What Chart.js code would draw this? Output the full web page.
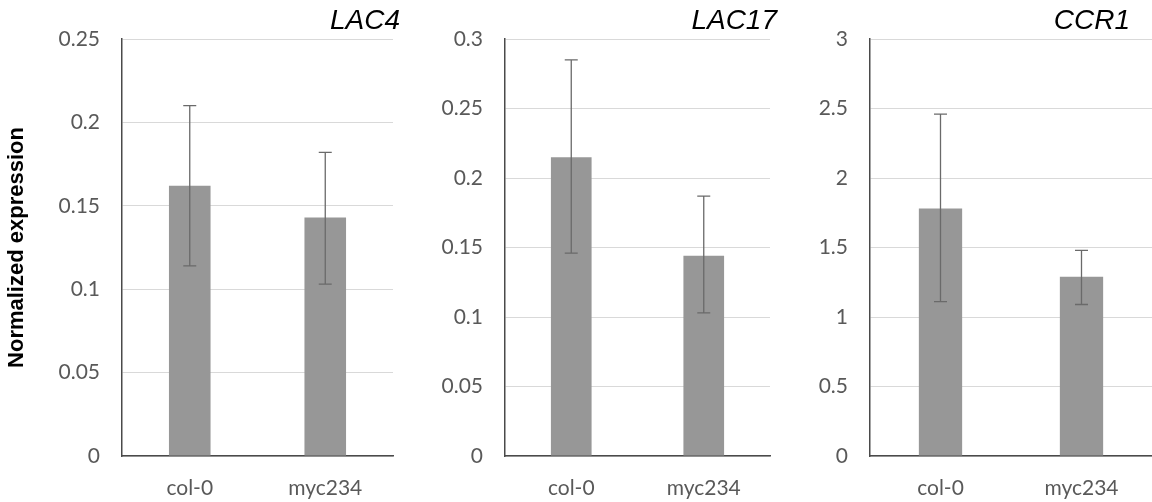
<!DOCTYPE html>
<html>
<head>
<meta charset="utf-8">
<script src="https://cdn.jsdelivr.net/npm/chart.js@4.4.0/dist/chart.umd.min.js"></script>
<style>
html, body { margin: 0; padding: 0; background: #fff; }
#wrap { position: relative; width: 1152px; height: 502px; overflow: hidden; }
canvas { position: absolute; top: 0; }
</style>
</head>
<body>
<div id="wrap">
  <canvas id="lac4" width="400" height="502" style="left:0px"></canvas>
  <canvas id="lac17" width="380" height="502" style="left:400px"></canvas>
  <canvas id="ccr1" width="372" height="502" style="left:780px"></canvas>
</div>
<script>
// Data
const categories = ['col-0', 'myc234'];

const lac4Mean = [0.162, 0.143];
const lac4Upper = [0.210, 0.182];
const lac4Lower = [0.114, 0.103];

const lac17Mean = [0.215, 0.144];
const lac17Upper = [0.285, 0.187];
const lac17Lower = [0.146, 0.103];

const ccr1Mean = [1.78, 1.29];
const ccr1Upper = [2.46, 1.48];
const ccr1Lower = [1.11, 1.09];

// y tick labels per panel (bottom to top)
const lac4Ticks = ['0', '0.05', '0.1', '0.15', '0.2', '0.25'];
const lac17Ticks = ['0', '0.05', '0.1', '0.15', '0.2', '0.25', '0.3'];
const ccr1Ticks = ['0', '0.5', '1', '1.5', '2', '2.5', '3'];

const barColor = '#979797';
const tickColor = '#595959';

// Error bars drawn through the y scale
function errorBarPlugin(upper, lower) {
    return {
        id: 'errorBars',
        afterDatasetsDraw(chart) {
            const ctx = chart.ctx;
            const y = chart.scales.y;
            const meta = chart.getDatasetMeta(0);
            ctx.save();
            ctx.strokeStyle = '#6a6a6a';
            ctx.lineWidth = 1.3;
            meta.data.forEach((bar, i) => {
                const top = y.getPixelForValue(upper[i]);
                const bot = y.getPixelForValue(lower[i]);
                ctx.beginPath();
                ctx.moveTo(bar.x, top); ctx.lineTo(bar.x, bot);
                ctx.moveTo(bar.x - 6.5, top); ctx.lineTo(bar.x + 6.5, top);
                ctx.moveTo(bar.x - 6.5, bot); ctx.lineTo(bar.x + 6.5, bot);
                ctx.stroke();
            });
            ctx.restore();
        }
    };
}

// Italic gene name in the top right corner
function geneTitlePlugin(text, offset) {
    return {
        id: 'geneTitle',
        afterDraw(chart) {
            const ctx = chart.ctx;
            ctx.save();
            ctx.font = 'italic 28px "Liberation Sans", Arial, sans-serif';
            ctx.fillStyle = '#000';
            ctx.textAlign = 'right';
            ctx.textBaseline = 'middle';
            ctx.fillText(text, chart.chartArea.right + offset, 21);
            ctx.restore();
        }
    };
}

function makePanel(id, values, upper, lower, tickLabels, yWidth, padRight, title, titleOffset, showYTitle) {
    const yMax = parseFloat(tickLabels[tickLabels.length - 1]);
    const yStep = parseFloat(tickLabels[1]);
    return new Chart(document.getElementById(id), {
        type: 'bar',
        data: {
            labels: categories,
            datasets: [{
                data: values,
                backgroundColor: barColor,
                borderWidth: 0,
                categoryPercentage: 0.307,
                barPercentage: 1
            }]
        },
        options: {
            responsive: false,
            animation: false,
            devicePixelRatio: 1,
            layout: { padding: { top: 39, right: padRight, left: 0, bottom: 0 } },
            plugins: {
                legend: { display: false },
                tooltip: { enabled: false }
            },
            scales: {
                x: {
                    grid: { display: false, drawTicks: false },
                    border: { display: true, color: '#4a4a4a', width: 1.5 },
                    ticks: {
                        color: tickColor,
                        padding: 20,
                        font: { family: 'Lato', size: 21 }
                    },
                    afterFit(scale) { scale.height = 46; }
                },
                y: {
                    min: 0,
                    max: yMax,
                    grid: { color: '#d9d9d9', lineWidth: 1, drawTicks: false },
                    border: { display: true, color: '#4a4a4a', width: 1.5 },
                    ticks: {
                        stepSize: yStep,
                        color: tickColor,
                        padding: 22,
                        font: { family: 'Lato', size: 21 },
                        callback: (v, i) => tickLabels[i]
                    },
                    title: {
                        display: showYTitle,
                        text: 'Normalized expression',
                        color: '#000',
                        padding: { top: 4, bottom: 0 },
                        font: { family: '"Liberation Sans", Arial, sans-serif', size: 22, weight: 'bold' }
                    },
                    afterFit(scale) { scale.width = yWidth; }
                }
            }
        },
        plugins: [errorBarPlugin(upper, lower), geneTitlePlugin(title, titleOffset)]
    });
}

makePanel('lac4', lac4Mean, lac4Upper, lac4Lower, lac4Ticks, 122, 7, 'LAC4', 7, true);
makePanel('lac17', lac17Mean, lac17Upper, lac17Lower, lac17Ticks, 105, 10, 'LAC17', 7, false);
makePanel('ccr1', ccr1Mean, ccr1Upper, ccr1Lower, ccr1Ticks, 90, 0, 'CCR1', -22, false);
</script>
</body>
</html>
